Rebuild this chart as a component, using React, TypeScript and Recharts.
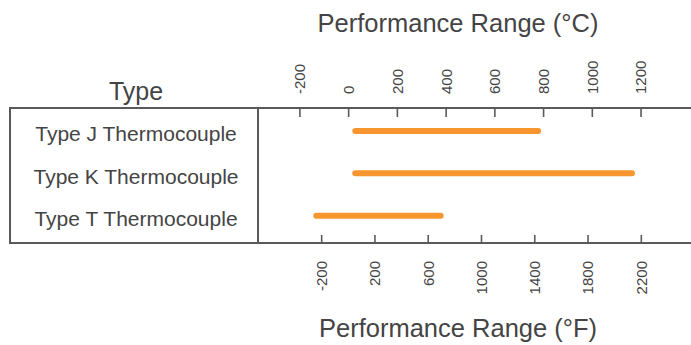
import { BarChart, Bar, XAxis, YAxis, Label } from 'recharts';

const types = ['Type J Thermocouple', 'Type K Thermocouple', 'Type T Thermocouple'];
const lowC = [15, 15, -145];
const highC = [790, 1175, 390];
const celsiusTicks = [-200, 0, 200, 400, 600, 800, 1000, 1200];
const fahrenheitTicks = [-200, 200, 600, 1000, 1400, 1800, 2200];
const celsiusDomain = [-372, 1405];
const fahrenheitDomain = [-678, 2573];

const data = types.map((type, i) => ({ type, range: [lowC[i], highC[i]] }));

const FONT = '"Liberation Sans", Arial, Helvetica, sans-serif';
const INK = '#444';
const LINE = '#5a5a5a';

const TopTick = (props: any) => {
  const { x, y, payload } = props;
  return (
    <g>
      <line x1={x} x2={x} y1={y} y2={y + 9} stroke={LINE} strokeWidth={1.6} />
      <text
        transform={`translate(${x},${y - 14}) rotate(-90)`}
        textAnchor="start"
        dy="0.36em"
        fontSize={15}
        fontFamily={FONT}
        fill={INK}
      >
        {payload.value}
      </text>
    </g>
  );
};

const BottomTick = (props: any) => {
  const { x, y, payload } = props;
  return (
    <g>
      <line x1={x} x2={x} y1={y} y2={y - 8} stroke={LINE} strokeWidth={1.6} />
      <text
        transform={`translate(${x},${y + 18}) rotate(-90)`}
        textAnchor="end"
        dy="0.36em"
        fontSize={15}
        fontFamily={FONT}
        fill={INK}
      >
        {payload.value}
      </text>
    </g>
  );
};

const TypeTick = (props: any) => {
  const { x, y, payload, index } = props;
  const shift = [1, 2, 2][index] ?? 0;
  return (
    <text x={x - 122} y={y + shift} dy="0.4em" textAnchor="middle" fontSize={21} fontFamily={FONT} fill={INK}>
      {payload.value}
    </text>
  );
};

// left "table" column: header + box outline
const TypeHeader = (props: any) => {
  const { x, y, width, height } = props.viewBox;
  return (
    <g>
      <path
        d={`M${x + width},${y} H${x} V${y + height} H${x + width}`}
        fill="none"
        stroke={LINE}
        strokeWidth={2}
      />
      <text x={x + width / 2 + 2} y={y - 8} textAnchor="middle" fontSize={25} fontFamily={FONT} fill={INK}>
        Type
      </text>
    </g>
  );
};

const AxisTitle = (text: string, dy: number) => (props: any) => {
  const { x, y } = props.viewBox;
  return (
    <text x={x + 200} y={y + dy} textAnchor="middle" fontSize={25.5} fontFamily={FONT} fill={INK}>
      {text}
    </text>
  );
};

export default function App() {
  return (
    <div style={{ position: 'absolute', left: 0, top: 0 }}>
      <BarChart
        width={691}
        height={345}
        data={data}
        layout="vertical"
        margin={{ top: 0, right: 0, bottom: 0, left: 10 }}
      >
        <XAxis
          xAxisId="c"
          type="number"
          orientation="top"
          domain={celsiusDomain}
          allowDataOverflow
          ticks={celsiusTicks}
          interval={0}
          height={108}
          tickSize={0}
          tickMargin={0}
          tickLine={false}
          tick={<TopTick />}
          axisLine={{ stroke: LINE, strokeWidth: 2 }}
        >
          <Label content={AxisTitle('Performance Range (°C)', 32)} />
        </XAxis>
        <XAxis
          xAxisId="f"
          type="number"
          orientation="bottom"
          domain={fahrenheitDomain}
          allowDataOverflow
          ticks={fahrenheitTicks}
          interval={0}
          height={102}
          tickSize={0}
          tickMargin={0}
          tickLine={false}
          tick={<BottomTick />}
          axisLine={{ stroke: LINE, strokeWidth: 2 }}
        >
          <Label content={AxisTitle('Performance Range (°F)', 94)} />
        </XAxis>
        <YAxis
          type="category"
          dataKey="type"
          width={248}
          padding={{ top: 2, bottom: 6 }}
          tickSize={0}
          tickMargin={0}
          tickLine={false}
          tick={<TypeTick />}
          axisLine={{ stroke: LINE, strokeWidth: 2 }}
        >
          <Label content={<TypeHeader />} />
        </YAxis>
        <Bar
          xAxisId="c"
          dataKey="range"
          fill="#F7962E"
          barSize={6}
          radius={3}
          isAnimationActive={false}
        />
      </BarChart>
    </div>
  );
}
